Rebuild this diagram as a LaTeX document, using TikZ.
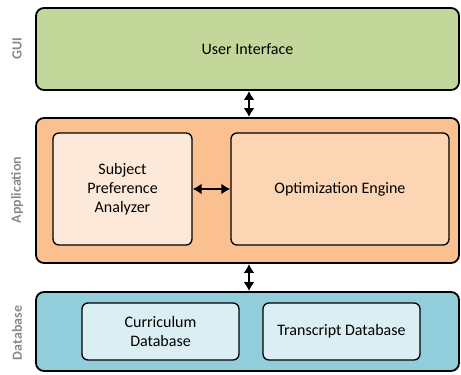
\documentclass[tikz,border=0pt]{standalone}
\usepackage{fontspec}
\setmainfont{Carlito}
\usepackage{xcolor}
\usepackage{tikz}
\usetikzlibrary{arrows.meta}

\definecolor{guifill}{HTML}{C4D79B}
\definecolor{appfill}{HTML}{FAC090}
\definecolor{spafill}{HTML}{FDE9D9}
\definecolor{enginefill}{HTML}{FCD5B4}
\definecolor{dbfill}{HTML}{92CDDC}
\definecolor{tablefill}{HTML}{DAEEF3}
\definecolor{tiergray}{HTML}{8A8A8A}

\begin{document}
\begin{tikzpicture}[x=1pt, y=-1pt,
    layer/.style={draw, line width=1.8pt, rounded corners=8pt, minimum width=423pt, inner sep=0pt},
    part/.style={draw, line width=1.3pt, rounded corners=6pt, align=center, inner sep=0pt,
        font=\fontsize{16}{19}\selectfont},
    tier/.style={rotate=90, font=\bfseries\fontsize{14}{16}\selectfont, text=tiergray},
    link/.style={{Latex[length=9pt,width=11pt]}-{Latex[length=9pt,width=11pt]}, line width=2.2pt}]
    \useasboundingbox (0,0) rectangle (461,375);

    % GUI layer
    \node[layer, fill=guifill, minimum height=82pt, font=\fontsize{16}{19}\selectfont] (gui) at (247.5,49) {User Interface};
    \node[tier] (guilabel) at (17,49) {GUI};

    % Application layer
    \node[layer, fill=appfill, minimum height=145pt] (app) at (247.5,190.5) {};
    \node[tier] (applabel) at (17,190) {Application};
    \node[part, fill=spafill, minimum width=139pt, minimum height=112pt] (spa) at (122.5,189) {Subject\\Preference\\Analyzer};
    \node[part, fill=enginefill, minimum width=218pt, minimum height=112pt] (engine) at (340,189) {Optimization Engine};

    % Database layer
    \node[layer, fill=dbfill, minimum height=79pt] (db) at (247.5,331.5) {};
    \node[tier] (dblabel) at (17,333) {Database};
    \node[part, fill=tablefill, minimum width=157pt, minimum height=57pt] (curriculum) at (160.5,331.5) {Curriculum\\Database};
    \node[part, fill=tablefill, minimum width=157pt, minimum height=57pt] (transcript) at (341.5,331.5) {Transcript Database};

    % Links between layers
    \draw[link] ([xshift=1.5pt]gui.south) -- ([xshift=1.5pt]app.north);
    \draw[link] ([xshift=1.5pt]app.south) -- ([xshift=1.5pt]db.north);
    \draw[link] (spa.east) -- (engine.west);
\end{tikzpicture}
\end{document}
